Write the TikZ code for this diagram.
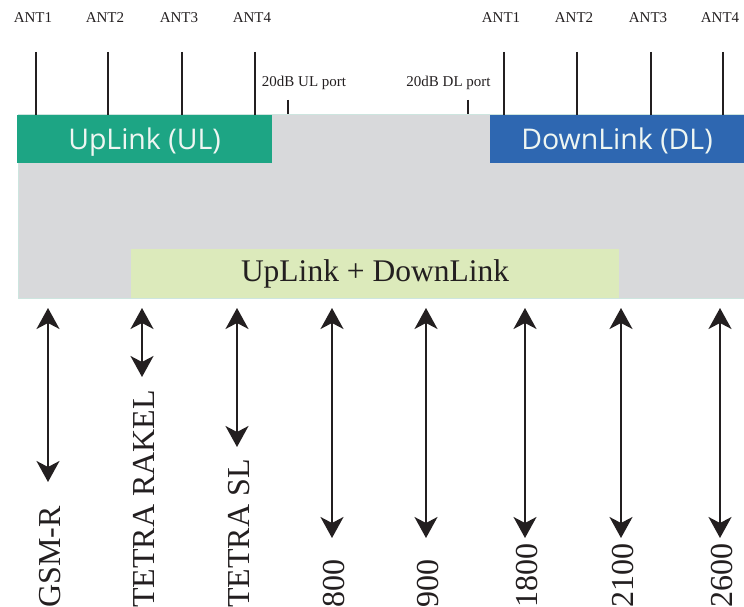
\documentclass[tikz,border=0pt]{standalone}
\usepackage{fontspec}
\setmainfont{Liberation Serif}
\newfontfamily\boxfont{Open Sans}
\usetikzlibrary{arrows.meta}
\definecolor{bodygray}{HTML}{D8D9DB}
\definecolor{bodyline}{HTML}{CDE5DF}
\definecolor{ulgreen}{HTML}{1DA584}
\definecolor{dlblue}{HTML}{2E67B1}
\definecolor{bothgreen}{HTML}{DCEABB}
\definecolor{boxtext}{HTML}{EEF6F2}
\definecolor{ink}{HTML}{231F20}
\begin{document}
\begin{tikzpicture}[
    x=1pt, y=-1pt,
    body/.style={draw=bodyline, line width=1pt, fill=bodygray, minimum width=726pt, minimum height=183pt, inner sep=0},
    linkbox/.style={minimum height=48pt, inner sep=0, text depth=0pt, text=boxtext, font=\boxfont\fontsize{28.5pt}{34pt}\selectfont},
    bothbox/.style={fill=bothgreen, minimum width=488pt, minimum height=49pt, inner sep=0, text=ink, font=\fontsize{31.5pt}{38pt}\selectfont},
    antlbl/.style={inner sep=0, text=ink, font=\fontsize{15pt}{18pt}\selectfont},
    ant/.style={draw=ink, line width=2.2pt},
    band/.style={draw=ink, line width=2pt, {Stealth[length=21pt, width=23pt, inset=6pt]}-{Stealth[length=21pt, width=23pt, inset=6pt]}},
    bandlbl/.style={inner sep=0, anchor=west, rotate=90, text=ink, font=\fontsize{32pt}{38pt}\selectfont}
]
\useasboundingbox (0,0) rectangle (744,607);

% Boxes
\node[body] (base) at (381,206.5) {};
\node[linkbox, fill=ulgreen, minimum width=255pt] (ul) at (144.5,139) {UpLink (UL)};
\node[linkbox, fill=dlblue, minimum width=254pt] (dl) at (617,139) {DownLink (DL)};
\node[bothbox] (both) at (375,273.5) {UpLink + DownLink};

% Antennas
\foreach \x [count=\i] in {36,108,182,255} {
  \node[antlbl] (ulant\i) at (\x-3,18) {ANT\i};
  \coordinate (ultop\i) at (\x,52);
  \draw[ant] (ultop\i) -- (ultop\i |- ul.north);
}
\foreach \x [count=\i] in {504,577,651,723} {
  \node[antlbl] (dlant\i) at (\x-3,18) {ANT\i};
  \coordinate (dltop\i) at (\x,52);
  \draw[ant] (dltop\i) -- (dltop\i |- dl.north);
}

% Ports
\node[antlbl] (ulportlbl) at (304,83) {20dB UL port};
\coordinate (ulport) at (288,100);
\draw[ant] (ulport) -- (ulport |- base.north);
\node[antlbl] (dlportlbl) at (448.5,83) {20dB DL port};
\coordinate (dlport) at (468,100);
\draw[ant] (dlport) -- (dlport |- base.north);

% Bands
\foreach \x/\y/\name [count=\i] in {48/482/GSM-R, 142/377/TETRA RAKEL, 237/447/TETRA SL, 332/538/800, 426/538/900, 525/538/1800, 621/538/2100, 720/538/2600} {
  \coordinate (up\i) at (\x,308);
  \coordinate (dn\i) at (\x,\y);
  \draw[band] (up\i) -- (dn\i);
  \node[bandlbl] (band\i) at (\x+2,608) {\name};
}

\end{tikzpicture}
\end{document}
